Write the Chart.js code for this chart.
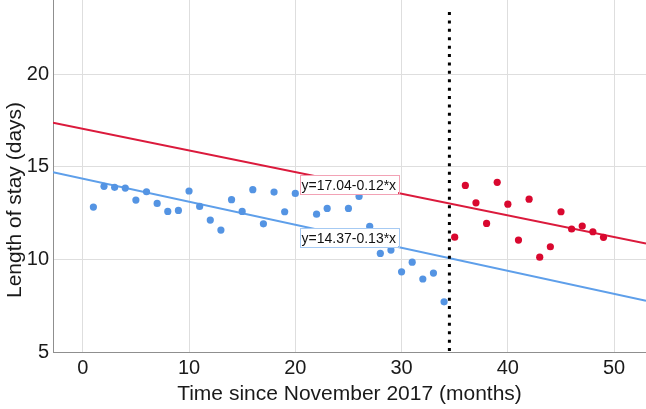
<!DOCTYPE html>
<html><head><meta charset="utf-8">
<script src="https://cdn.jsdelivr.net/npm/chart.js@4"></script>
<style>html,body{margin:0;padding:0;background:#fff}#wrap{width:646px;height:409px;position:relative}</style>
</head><body><div id="wrap"><canvas id="c"></canvas></div>
<script>
// ---- data ----
const blueMonths = [1,2,3,4,5,6,7,8,9,10,11,12,13,14,15,16,17,18,19,20,22,23,25,26,27,28,29,30,31,32,33,34];
const blueValues = [12.82,13.94,13.89,13.85,13.20,13.65,13.02,12.59,12.64,13.69,12.86,12.12,11.58,13.22,12.59,13.76,11.92,13.63,12.57,13.56,12.44,12.75,12.75,13.40,11.78,10.32,10.50,9.33,9.85,8.94,9.26,7.71];
const redMonths = [35,36,37,38,39,40,41,42,43,44,45,46,47,48,49];
const redValues = [11.20,13.99,13.05,11.94,14.16,12.98,11.04,13.25,10.12,10.68,12.57,11.64,11.80,11.49,11.19];
const xTicks = [0,10,20,30,40,50];
const yTicks = [5,10,15,20];
const xRange = [-2.8, 53];
const yRange = [5, 24];
// fitted lines: values at the left and right edges of the plot
const redLineY = [17.37, 10.86];
const blueLineY = [14.70, 7.76];
const redLabel = 'y=17.04-0.12*x';
const blueLabel = 'y=14.37-0.13*x';
const labelAnchors = [[20.4, 14.02], [20.4, 11.16]]; // left x, centre y (data units)
const interruption = 34.5;
const interruptionTop = 23.35;
const xTitle = 'Time since November 2017 (months)';
const yTitle = 'Length of stay (days)';

const BLUE = '#5494e3', BLUE_LINE = '#5e9fea';
const RED = '#d9082f', RED_LINE = '#db1a3c';
const FONT = '"Liberation Sans", Arial, sans-serif';

const toPts = (xs, ys) => xs.map((x, i) => ({x, y: ys[i]}));

const labelPlugin = {
  id: 'fitLabels',
  afterDatasetsDraw(chart) {
    const {ctx, scales: {x, y}} = chart;
    const items = [[redLabel, '#f2a2b5'], [blueLabel, '#a6caf3']];
    ctx.save();
    ctx.font = '14px ' + FONT;
    ctx.textBaseline = 'middle';
    items.forEach(([txt, col], i) => {
      const px = x.getPixelForValue(labelAnchors[i][0]);
      const py = y.getPixelForValue(labelAnchors[i][1]);
      const w = ctx.measureText(txt).width + 4;
      const h = 19;
      ctx.fillStyle = '#fff';
      ctx.fillRect(px, py - h / 2, w, h);
      ctx.strokeStyle = col;
      ctx.lineWidth = 1;
      ctx.strokeRect(Math.round(px) + 0.5, Math.round(py - h / 2) + 0.5, Math.round(w), h);
      ctx.fillStyle = '#111';
      ctx.fillText(txt, px + 2, py + 1);
    });
    ctx.restore();
  }
};

const yTitlePlugin = {
  id: 'yTitle',
  afterDraw(chart) {
    const {ctx} = chart;
    ctx.save();
    ctx.font = '21px ' + FONT;
    ctx.fillStyle = '#1a1a1a';
    ctx.textAlign = 'center';
    ctx.textBaseline = 'middle';
    ctx.translate(15, 200);
    ctx.rotate(-Math.PI / 2);
    ctx.fillText(yTitle, 0, 0);
    ctx.restore();
  }
};

new Chart(document.getElementById('c'), {
  type: 'scatter',
  data: {
    datasets: [
      {data: toPts(blueMonths, blueValues), backgroundColor: BLUE, borderColor: BLUE, pointRadius: 3.6, pointBorderWidth: 0},
      {data: toPts(redMonths, redValues), backgroundColor: RED, borderColor: RED, pointRadius: 3.6, pointBorderWidth: 0},
      {data: [{x: interruption, y: interruptionTop}, {x: interruption, y: yRange[0]}], showLine: true, borderColor: '#000', borderWidth: 3, borderDash: [3, 5.4], borderCapStyle: 'butt', pointRadius: 0},
      {data: toPts(xRange, redLineY), showLine: true, borderColor: RED_LINE, borderWidth: 2, pointRadius: 0},
      {data: toPts(xRange, blueLineY), showLine: true, borderColor: BLUE_LINE, borderWidth: 2, pointRadius: 0}
    ]
  },
  options: {
    responsive: true,
    maintainAspectRatio: false,
    animation: false,
    layout: {padding: 0, autoPadding: false},
    plugins: {legend: {display: false}, tooltip: {enabled: false}},
    scales: {
      x: {
        type: 'linear', min: xRange[0], max: xRange[1],
        afterBuildTicks: s => { s.ticks = xTicks.map(v => ({value: v})); },
        afterFit: s => { s.height = 57; s.paddingLeft = 0; s.paddingRight = 0; },
        grid: {color: '#dedede', lineWidth: 1, drawTicks: false},
        border: {color: '#8f8f8f', width: 1},
        ticks: {color: '#1a1a1a', font: {family: FONT, size: 20}, padding: 4, maxRotation: 0},
        title: {display: true, text: xTitle, color: '#1a1a1a', font: {family: FONT, size: 21}, padding: {top: 0, bottom: 2}}
      },
      y: {
        type: 'linear', min: yRange[0], max: yRange[1],
        afterBuildTicks: s => { s.ticks = yTicks.map(v => ({value: v})); },
        afterFit: s => { s.width = 53; s.paddingTop = 0; s.paddingBottom = 0; },
        grid: {color: '#dedede', lineWidth: 1, drawTicks: false},
        border: {color: '#8f8f8f', width: 1},
        ticks: {color: '#1a1a1a', font: {family: FONT, size: 20}, padding: 4},
        title: {display: false}
      }
    }
  },
  plugins: [labelPlugin, yTitlePlugin]
});
</script>
</body></html>
